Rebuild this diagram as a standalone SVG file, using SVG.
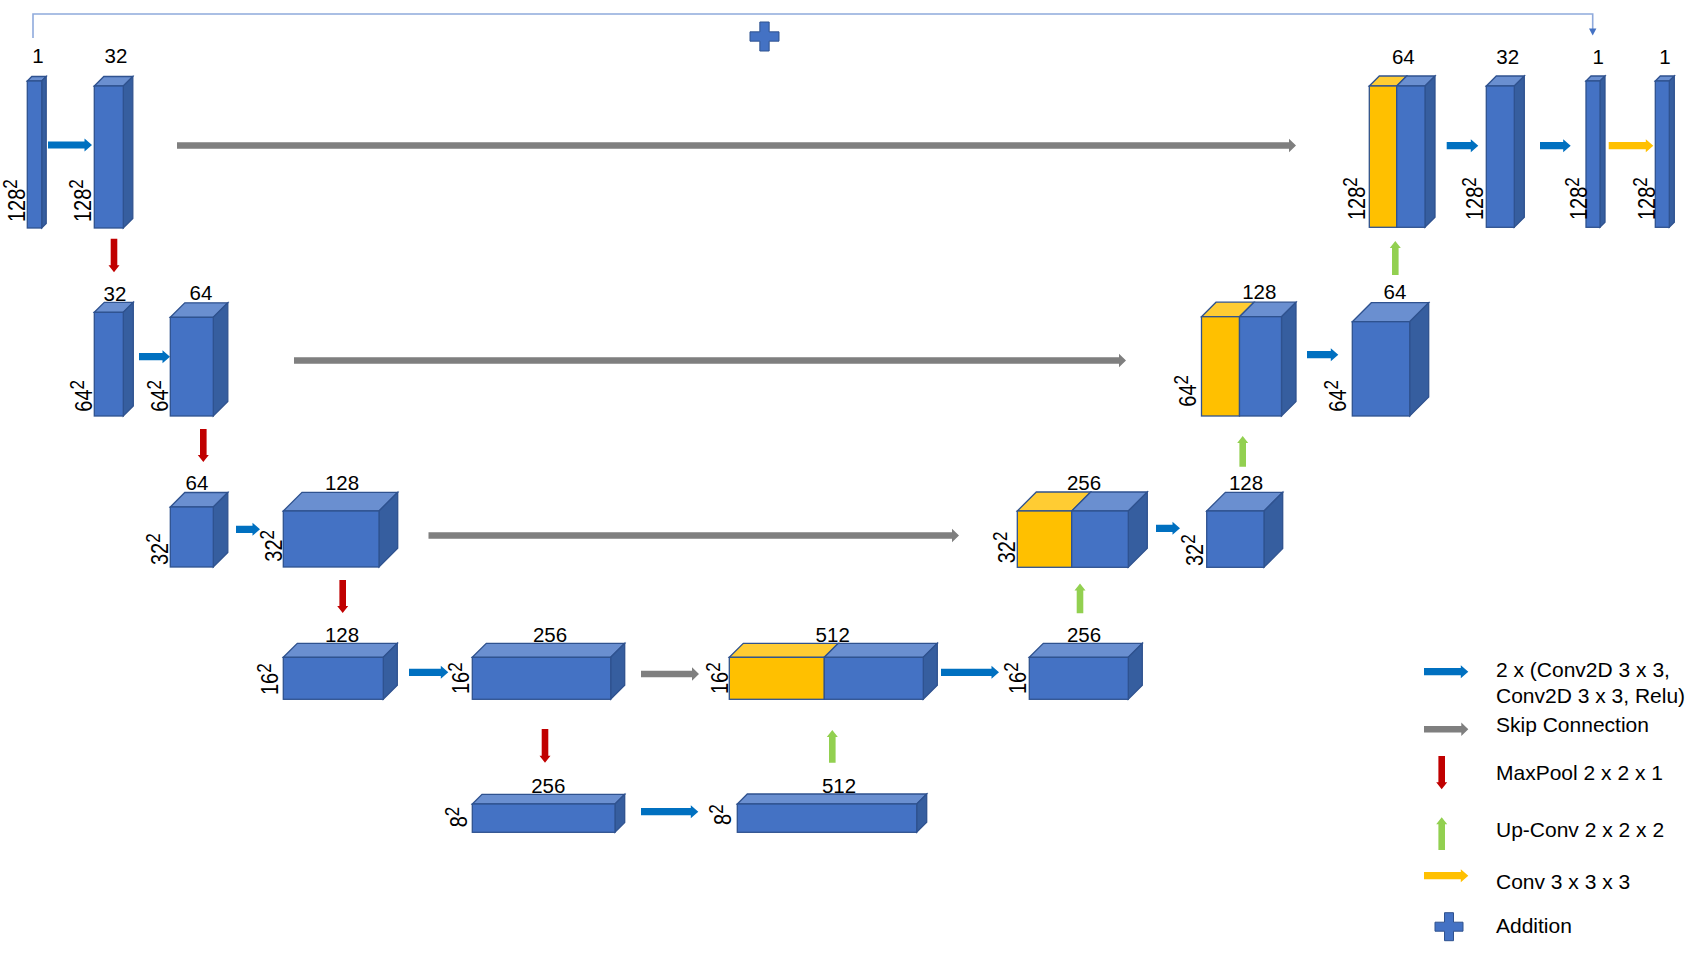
<svg xmlns="http://www.w3.org/2000/svg" width="1701" height="957" viewBox="0 0 1701 957">
<style>
.f{fill:#4472C4;stroke:#2F528F;stroke-width:1.3}
.t{fill:#6A8FD0;stroke:#2F528F;stroke-width:1.3}
.s{fill:#365E9F;stroke:#2F528F;stroke-width:1.3}
.fy{fill:#FFC000;stroke:#2F528F;stroke-width:1.3}
.ty{fill:#FFCC33;stroke:#2F528F;stroke-width:1.3}
.lbl{font-family:"Liberation Sans",Arial,sans-serif;font-size:20.5px;fill:#000;text-anchor:middle}
.rot{font-family:"Liberation Sans",Arial,sans-serif;font-size:20px;fill:#000}
.sup{font-size:17px}
.leg{font-family:"Liberation Sans",Arial,sans-serif;font-size:21px;fill:#000}
.blue{fill:#0070C0}
.grey{fill:#7F7F7F}
.red{fill:#C00000}
.green{fill:#92D050}
.yel{fill:#FFC000}
.plus{fill:#4472C4;stroke:#2F528F;stroke-width:1}
</style>

<g id="connectors">
  <path d="M33,38 V14 H1592.7 V29" fill="none" stroke="#8FAADC" stroke-width="1.6"/>
  <polygon points="1589,28.5 1596.4,28.5 1592.7,35.5" fill="#4472C4"/>
  <polygon class="blue" points="48,141.4 84.5,141.4 84.5,138.5 92,145 84.5,151.5 84.5,148.6 48,148.6"/>
  <polygon class="blue" points="139,353.1 162.5,353.1 162.5,350.2 170,356.7 162.5,363.2 162.5,360.3 139,360.3"/>
  <polygon class="blue" points="236,525.7 252.5,525.7 252.5,522.8 260,529.3 252.5,535.8 252.5,532.9 236,532.9"/>
  <polygon class="blue" points="409,668.7 440.8,668.7 440.8,665.8 448.3,672.3 440.8,678.8 440.8,675.9 409,675.9"/>
  <polygon class="blue" points="641,808.1 690.8,808.1 690.8,805.2 698.3,811.7 690.8,818.2 690.8,815.3 641,815.3"/>
  <polygon class="blue" points="941,668.7 991.5,668.7 991.5,665.8 999,672.3 991.5,678.8 991.5,675.9 941,675.9"/>
  <polygon class="blue" points="1156,524.7 1172.5,524.7 1172.5,521.8 1180,528.3 1172.5,534.8 1172.5,531.9 1156,531.9"/>
  <polygon class="blue" points="1307,351.1 1330.8,351.1 1330.8,348.2 1338.3,354.7 1330.8,361.2 1330.8,358.3 1307,358.3"/>
  <polygon class="blue" points="1446.7,142.1 1470.8,142.1 1470.8,139.2 1478.3,145.7 1470.8,152.2 1470.8,149.3 1446.7,149.3"/>
  <polygon class="blue" points="1540,142.1 1563.2,142.1 1563.2,139.2 1570.7,145.7 1563.2,152.2 1563.2,149.3 1540,149.3"/>
  <polygon class="yel" points="1608.7,142.1 1645.8,142.1 1645.8,139.2 1653.3,145.7 1645.8,152.2 1645.8,149.3 1608.7,149.3"/>
  <polygon class="grey" points="177,142.3 1289,142.3 1289,138.8 1296,145.5 1289,152.2 1289,148.7 177,148.7"/>
  <polygon class="grey" points="294,357.3 1119,357.3 1119,353.8 1126,360.5 1119,367.2 1119,363.7 294,363.7"/>
  <polygon class="grey" points="428.5,532.3 952,532.3 952,528.8 959,535.5 952,542.2 952,538.7 428.5,538.7"/>
  <polygon class="grey" points="641,670.8 692,670.8 692,667.3 699,674 692,680.7 692,677.2 641,677.2"/>
  <polygon class="red" points="110.7,238.7 117.3,238.7 117.3,265.3 119.5,265.3 114,272.3 108.5,265.3 110.7,265.3"/>
  <polygon class="red" points="200,429 206.6,429 206.6,455 208.8,455 203.3,462 197.8,455 200,455"/>
  <polygon class="red" points="339.4,580 346,580 346,606 348.2,606 342.7,613 337.2,606 339.4,606"/>
  <polygon class="red" points="541.7,729 548.3,729 548.3,755.7 550.5,755.7 545,762.7 539.5,755.7 541.7,755.7"/>
  <polygon class="green" points="1392,275 1398.6,275 1398.6,248 1400.8,248 1395.3,241 1389.8,248 1392,248"/>
  <polygon class="green" points="1239.4,466.7 1246,466.7 1246,443 1248.2,443 1242.7,436 1237.2,443 1239.4,443"/>
  <polygon class="green" points="1076.7,613.3 1083.3,613.3 1083.3,590.6 1085.5,590.6 1080,583.6 1074.5,590.6 1076.7,590.6"/>
  <polygon class="green" points="829,762.7 835.6,762.7 835.6,737 837.8,737 832.3,730 826.8,737 829,737"/>
</g>

<g id="addition-top">
  <path class="plus" d="M759.85,22 h9.3 v9.85 h9.85 v9.3 h-9.85 v9.85 h-9.3 v-9.85 h-9.85 v-9.3 h9.85 z"/>
</g>

<g id="in1">
  <polygon class="t" points="27.3,81 31.8,76.5 46.2,76.5 41.7,81"/>
  <polygon class="s" points="41.7,81 46.2,76.5 46.2,223.5 41.7,228"/>
  <rect class="f" x="27.3" y="81" width="14.4" height="147"/>
  <text class="lbl" x="38" y="63">1</text>
  <text class="rot" transform="translate(24.5,222) rotate(-90) scale(1,1.17)">128<tspan class="sup" dy="-6.5">2</tspan></text>
</g>
<g id="enc1">
  <polygon class="t" points="94.3,86 103.8,76.5 132.8,76.5 123.3,86"/>
  <polygon class="s" points="123.3,86 132.8,76.5 132.8,218.5 123.3,228"/>
  <rect class="f" x="94.3" y="86" width="29" height="142"/>
  <text class="lbl" x="116" y="63">32</text>
  <text class="rot" transform="translate(90.7,222) rotate(-90) scale(1,1.17)">128<tspan class="sup" dy="-6.5">2</tspan></text>
</g>
<g id="dec1cat">
  <polygon class="ty" points="1369.3,86 1379.3,76 1406.7,76 1396.7,86"/>
  <polygon class="t" points="1396.7,86 1406.7,76 1435,76 1425,86"/>
  <polygon class="s" points="1425,86 1435,76 1435,217.3 1425,227.3"/>
  <rect class="fy" x="1369.3" y="86" width="27.4" height="141.3"/>
  <rect class="f" x="1396.7" y="86" width="28.3" height="141.3"/>
  <text class="lbl" x="1403.3" y="64">64</text>
  <text class="rot" transform="translate(1365,220) rotate(-90) scale(1,1.17)">128<tspan class="sup" dy="-6.5">2</tspan></text>
</g>
<g id="dec1">
  <polygon class="t" points="1486.3,86 1496.3,76 1524.3,76 1514.3,86"/>
  <polygon class="s" points="1514.3,86 1524.3,76 1524.3,217.3 1514.3,227.3"/>
  <rect class="f" x="1486.3" y="86" width="28" height="141.3"/>
  <text class="lbl" x="1507.7" y="64">32</text>
  <text class="rot" transform="translate(1483.3,220) rotate(-90) scale(1,1.17)">128<tspan class="sup" dy="-6.5">2</tspan></text>
</g>
<g id="out1">
  <polygon class="t" points="1586,81 1591,76 1605,76 1600,81"/>
  <polygon class="s" points="1600,81 1605,76 1605,222.3 1600,227.3"/>
  <rect class="f" x="1586" y="81" width="14" height="146.3"/>
  <text class="lbl" x="1598.3" y="64">1</text>
  <text class="rot" transform="translate(1586.7,220) rotate(-90) scale(1,1.17)">128<tspan class="sup" dy="-6.5">2</tspan></text>
</g>
<g id="out2">
  <polygon class="t" points="1655.3,81 1660.3,76 1674.3,76 1669.3,81"/>
  <polygon class="s" points="1669.3,81 1674.3,76 1674.3,222.3 1669.3,227.3"/>
  <rect class="f" x="1655.3" y="81" width="14" height="146.3"/>
  <text class="lbl" x="1665" y="64">1</text>
  <text class="rot" transform="translate(1655,220) rotate(-90) scale(1,1.17)">128<tspan class="sup" dy="-6.5">2</tspan></text>
</g>

<g id="enc2a">
  <polygon class="t" points="94.3,312.3 104.3,302.3 133.3,302.3 123.3,312.3"/>
  <polygon class="s" points="123.3,312.3 133.3,302.3 133.3,406 123.3,416"/>
  <rect class="f" x="94.3" y="312.3" width="29" height="103.7"/>
  <text class="lbl" x="115" y="300.5">32</text>
  <text class="rot" transform="translate(91.7,411.7) rotate(-90) scale(1,1.17)">64<tspan class="sup" dy="-6.5">2</tspan></text>
</g>
<g id="enc2b">
  <polygon class="t" points="170.3,317.3 184.8,302.8 227.8,302.8 213.3,317.3"/>
  <polygon class="s" points="213.3,317.3 227.8,302.8 227.8,401.5 213.3,416"/>
  <rect class="f" x="170.3" y="317.3" width="43" height="98.7"/>
  <text class="lbl" x="201" y="300">64</text>
  <text class="rot" transform="translate(168.3,411.7) rotate(-90) scale(1,1.17)">64<tspan class="sup" dy="-6.5">2</tspan></text>
</g>
<g id="dec2cat">
  <polygon class="ty" points="1201.5,316.7 1216,302.2 1254,302.2 1239.5,316.7"/>
  <polygon class="t" points="1239.5,316.7 1254,302.2 1296,302.2 1281.5,316.7"/>
  <polygon class="s" points="1281.5,316.7 1296,302.2 1296,401.5 1281.5,416"/>
  <rect class="fy" x="1201.5" y="316.7" width="38" height="99.3"/>
  <rect class="f" x="1239.5" y="316.7" width="42" height="99.3"/>
  <text class="lbl" x="1259.3" y="299.3">128</text>
  <text class="rot" transform="translate(1196,406.7) rotate(-90) scale(1,1.17)">64<tspan class="sup" dy="-6.5">2</tspan></text>
</g>
<g id="dec2">
  <polygon class="t" points="1352.3,321.7 1371.3,302.7 1428.7,302.7 1409.7,321.7"/>
  <polygon class="s" points="1409.7,321.7 1428.7,302.7 1428.7,397 1409.7,416"/>
  <rect class="f" x="1352.3" y="321.7" width="57.4" height="94.3"/>
  <text class="lbl" x="1395" y="299.3">64</text>
  <text class="rot" transform="translate(1345.7,411.7) rotate(-90) scale(1,1.17)">64<tspan class="sup" dy="-6.5">2</tspan></text>
</g>

<g id="enc3a">
  <polygon class="t" points="170.3,507 184.8,492.5 227.8,492.5 213.3,507"/>
  <polygon class="s" points="213.3,507 227.8,492.5 227.8,552.5 213.3,567"/>
  <rect class="f" x="170.3" y="507" width="43" height="60"/>
  <text class="lbl" x="197" y="490">64</text>
  <text class="rot" transform="translate(167.7,565) rotate(-90) scale(1,1.17)">32<tspan class="sup" dy="-6.5">2</tspan></text>
</g>
<g id="enc3b">
  <polygon class="t" points="283.3,511 302,492.3 397.7,492.3 379,511"/>
  <polygon class="s" points="379,511 397.7,492.3 397.7,548.3 379,567"/>
  <rect class="f" x="283.3" y="511" width="95.7" height="56"/>
  <text class="lbl" x="342" y="490">128</text>
  <text class="rot" transform="translate(281.7,561.7) rotate(-90) scale(1,1.17)">32<tspan class="sup" dy="-6.5">2</tspan></text>
</g>
<g id="dec3cat">
  <polygon class="ty" points="1017.3,511 1036.3,492 1090.7,492 1071.7,511"/>
  <polygon class="t" points="1071.7,511 1090.7,492 1147.3,492 1128.3,511"/>
  <polygon class="s" points="1128.3,511 1147.3,492 1147.3,548.3 1128.3,567.3"/>
  <rect class="fy" x="1017.3" y="511" width="54.4" height="56.3"/>
  <rect class="f" x="1071.7" y="511" width="56.6" height="56.3"/>
  <text class="lbl" x="1084" y="490">256</text>
  <text class="rot" transform="translate(1015,563.3) rotate(-90) scale(1,1.17)">32<tspan class="sup" dy="-6.5">2</tspan></text>
</g>
<g id="dec3">
  <polygon class="t" points="1206.7,511 1225.4,492.3 1282.7,492.3 1264,511"/>
  <polygon class="s" points="1264,511 1282.7,492.3 1282.7,548.6 1264,567.3"/>
  <rect class="f" x="1206.7" y="511" width="57.3" height="56.3"/>
  <text class="lbl" x="1246" y="490">128</text>
  <text class="rot" transform="translate(1202.7,566) rotate(-90) scale(1,1.17)">32<tspan class="sup" dy="-6.5">2</tspan></text>
</g>

<g id="enc4a">
  <polygon class="t" points="283.3,657.3 297.3,643.3 397.3,643.3 383.3,657.3"/>
  <polygon class="s" points="383.3,657.3 397.3,643.3 397.3,685.3 383.3,699.3"/>
  <rect class="f" x="283.3" y="657.3" width="100" height="42"/>
  <text class="lbl" x="342" y="641.7">128</text>
  <text class="rot" transform="translate(278.3,695) rotate(-90) scale(1,1.17)">16<tspan class="sup" dy="-6.5">2</tspan></text>
</g>
<g id="enc4b">
  <polygon class="t" points="472.3,657.3 486.3,643.3 624.7,643.3 610.7,657.3"/>
  <polygon class="s" points="610.7,657.3 624.7,643.3 624.7,685.3 610.7,699.3"/>
  <rect class="f" x="472.3" y="657.3" width="138.4" height="42"/>
  <text class="lbl" x="550" y="641.7">256</text>
  <text class="rot" transform="translate(469.3,694) rotate(-90) scale(1,1.17)">16<tspan class="sup" dy="-6.5">2</tspan></text>
</g>
<g id="dec4cat">
  <polygon class="ty" points="729.3,657.3 743.3,643.3 838.3,643.3 824.3,657.3"/>
  <polygon class="t" points="824.3,657.3 838.3,643.3 937.3,643.3 923.3,657.3"/>
  <polygon class="s" points="923.3,657.3 937.3,643.3 937.3,685.3 923.3,699.3"/>
  <rect class="fy" x="729.3" y="657.3" width="95" height="42"/>
  <rect class="f" x="824.3" y="657.3" width="99" height="42"/>
  <text class="lbl" x="832.7" y="641.7">512</text>
  <text class="rot" transform="translate(727.7,694) rotate(-90) scale(1,1.17)">16<tspan class="sup" dy="-6.5">2</tspan></text>
</g>
<g id="dec4">
  <polygon class="t" points="1029.3,657.3 1043.3,643.3 1142.3,643.3 1128.3,657.3"/>
  <polygon class="s" points="1128.3,657.3 1142.3,643.3 1142.3,685.3 1128.3,699.3"/>
  <rect class="f" x="1029.3" y="657.3" width="99" height="42"/>
  <text class="lbl" x="1084" y="641.7">256</text>
  <text class="rot" transform="translate(1026,694) rotate(-90) scale(1,1.17)">16<tspan class="sup" dy="-6.5">2</tspan></text>
</g>

<g id="bott1">
  <polygon class="t" points="472.3,804 482,794.3 624.7,794.3 615,804"/>
  <polygon class="s" points="615,804 624.7,794.3 624.7,822.6 615,832.3"/>
  <rect class="f" x="472.3" y="804" width="142.7" height="28.3"/>
  <text class="lbl" x="548.3" y="793.3">256</text>
  <text class="rot" transform="translate(466.7,827.3) rotate(-90) scale(1,1.17)">8<tspan class="sup" dy="-6.5">2</tspan></text>
</g>
<g id="bott2">
  <polygon class="t" points="737.3,804 747.3,794 926.7,794 916.7,804"/>
  <polygon class="s" points="916.7,804 926.7,794 926.7,822.3 916.7,832.3"/>
  <rect class="f" x="737.3" y="804" width="179.4" height="28.3"/>
  <text class="lbl" x="839" y="793.3">512</text>
  <text class="rot" transform="translate(730.7,825) rotate(-90) scale(1,1.17)">8<tspan class="sup" dy="-6.5">2</tspan></text>
</g>

<g id="legend">
  <polygon class="blue" points="1424,668.1 1460.8,668.1 1460.8,665.2 1468.3,671.7 1460.8,678.2 1460.8,675.3 1424,675.3"/>
  <text class="leg" x="1496" y="676.7">2 x (Conv2D 3 x 3,</text>
  <text class="leg" x="1496" y="702.7">Conv2D 3 x 3, Relu)</text>
  <polygon class="grey" points="1424,726.1 1461.3,726.1 1461.3,722.6 1468.3,729.3 1461.3,736 1461.3,732.5 1424,732.5"/>
  <text class="leg" x="1496" y="731.7">Skip Connection</text>
  <polygon class="red" points="1438.4,756 1445,756 1445,782.3 1447.2,782.3 1441.7,789.3 1436.2,782.3 1438.4,782.3"/>
  <text class="leg" x="1496" y="780">MaxPool 2 x 2 x 1</text>
  <polygon class="green" points="1438.4,850 1445,850 1445,824.3 1447.2,824.3 1441.7,817.3 1436.2,824.3 1438.4,824.3"/>
  <text class="leg" x="1496" y="836.7">Up-Conv 2 x 2 x 2</text>
  <polygon class="yel" points="1424,872.1 1460.8,872.1 1460.8,869.2 1468.3,875.7 1460.8,882.2 1460.8,879.3 1424,879.3"/>
  <text class="leg" x="1496" y="889">Conv 3 x 3 x 3</text>
  <path class="plus" d="M1444.5,912.7 h9 v9.5 h9.5 v9 h-9.5 v9.5 h-9 v-9.5 h-9.5 v-9 h9.5 z"/>
  <text class="leg" x="1496" y="933.3">Addition</text>
</g>
</svg>
